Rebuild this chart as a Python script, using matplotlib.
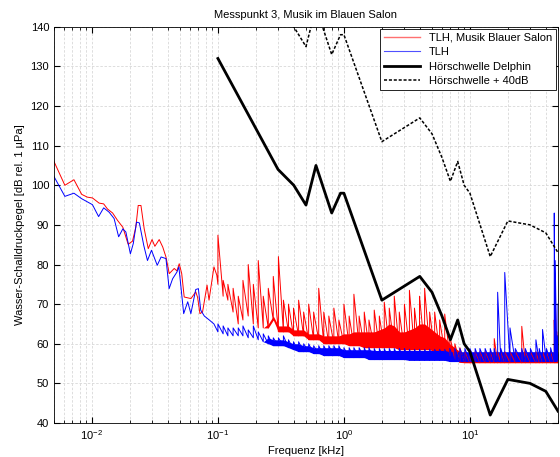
import numpy as np
import matplotlib
matplotlib.use("Agg")
import matplotlib.pyplot as plt
from matplotlib.lines import Line2D
from matplotlib.ticker import LogLocator, NullFormatter

plt.rcParams["font.family"] = ["Liberation Sans", "DejaVu Sans"]
plt.rcParams["mathtext.fontset"] = "custom"
plt.rcParams["mathtext.rm"] = "Liberation Sans"

RED, BLUE = "#ff0000", "#0000ff"

# --- low-frequency part of both spectra (kHz, dB) ---
red_f_low = [0.005, 0.0061, 0.0072, 0.0083, 0.0092, 0.0101, 0.0114, 0.0124, 0.0133,
             0.0146, 0.016, 0.0176, 0.0194, 0.021, 0.0223, 0.0233, 0.0245, 0.026,
             0.028, 0.030, 0.0316, 0.0342, 0.0365, 0.0387, 0.0411, 0.045, 0.0473,
             0.0493, 0.0516, 0.054, 0.0611, 0.0667, 0.069, 0.072, 0.0755, 0.082,
             0.085, 0.093, 0.098]
red_db_low = [106, 100, 101.4, 97.7, 97, 96.8, 95.5, 95.3, 94,
              93, 91.1, 89.4, 85.1, 85.9, 89.4, 94.9, 94.9, 89,
              84, 86.3, 84.6, 86.3, 84.4, 81.9, 77.7, 79, 78.4,
              80.2, 77.7, 71.8, 71.4, 73.1, 71.7, 67.6, 68, 74.8,
              71, 79.4, 77.3]

blue_f_low = [0.005, 0.0061, 0.0072, 0.0083, 0.0101, 0.0113, 0.0124, 0.0137, 0.015,
              0.0163, 0.0176, 0.0186, 0.0202, 0.0213, 0.0226, 0.0238, 0.0258, 0.0276,
              0.0297, 0.033, 0.0354, 0.0387, 0.041, 0.0437, 0.0473, 0.049, 0.0535,
              0.0576, 0.061, 0.0667, 0.07, 0.073, 0.078, 0.0854, 0.093]
blue_db_low = [102.2, 97.2, 98, 96.6, 95.1, 92.1, 94.3, 93.2, 91.6,
               87, 89, 88.2, 82.7, 85.3, 90.7, 90.5, 84.8, 81,
               83.6, 79.8, 81.9, 81.5, 73.9, 76.4, 78.1, 79.4, 67.6,
               70.6, 67.6, 73.7, 73.9, 68.5, 67, 66, 65]

# --- high-frequency part: floor, dense core top and peak level per bin ---
f_hf = [0.100, 0.110, 0.120, 0.132, 0.145, 0.158, 0.174, 0.191, 0.209, 0.229,
        0.251, 0.275, 0.302, 0.331, 0.363, 0.398, 0.437, 0.479, 0.525, 0.575,
        0.631, 0.692, 0.759, 0.832, 0.912, 1.00, 1.10, 1.20, 1.32, 1.45,
        1.58, 1.74, 1.91, 2.09, 2.29, 2.51, 2.75, 3.02, 3.31, 3.63,
        3.98, 4.37, 4.79, 5.25, 5.75, 6.31, 6.92, 7.59, 8.32, 9.12,
        10.0, 11.0, 12.0, 13.2, 14.5, 15.6, 16.6, 17.6, 18.9, 20.8,
        22.9, 25.8, 27.5, 30.2, 33.4, 35.5, 37.7, 40.5, 43.7, 46.7,
        47.5, 49.0, 50.0]
red_lo = [75, 72, 71, 68, 65, 66, 67, 65, 64, 64,
          64, 66, 63, 63, 63, 62, 62, 62, 61, 61,
          61, 60, 60, 60, 60, 60, 59.5, 59.5, 59.5, 59,
          59, 59, 59, 59, 59, 59, 58.5, 58.5, 58.5, 58.5,
          58.5, 58.5, 58.5, 58, 58, 58, 57, 56, 55.3, 55.2,
          55.2, 55.2, 55.2, 55.2, 55.2, 55.2, 55.2, 55.2, 55.2, 55.2,
          55.2, 55.2, 55.2, 55.2, 55.2, 55.2, 55.2, 55.2, 55.2, 55.2,
          55.2, 55.2, 55.2]
red_core = [75, 72, 71, 68, 65, 66, 67, 65, 64, 64,
            65, 67, 64.5, 64.5, 64.5, 63.5, 63.5, 63.5, 62.5, 62.5,
            62.5, 62, 62, 62, 62, 62.5, 62.5, 63, 63, 63,
            63, 63, 63.5, 64, 65, 64.5, 63, 63, 63.5, 64,
            65, 65, 64, 63, 62, 61.5, 60, 59, 58, 57.5,
            57.5, 57.5, 57.5, 57.5, 57.5, 57.5, 57.5, 57.5, 57.5, 57.5,
            57.5, 57.5, 57.5, 57.5, 57.5, 57.5, 57.5, 57.5, 57.5, 57.5,
            57.5, 57.5, 57.5]
red_hi = [87.4, 76, 75, 74, 72, 76, 80, 75, 81, 72,
          74, 77, 82, 71, 70, 69, 71, 68, 70, 68,
          74, 68, 67, 69, 66, 70, 67, 72.5, 67, 68,
          66, 68.5, 67, 70.5, 69, 72, 68, 70, 73.5, 69,
          72, 74, 68, 68, 66, 67.5, 62, 60, 59, 58,
          58, 58, 58, 58, 58, 61.3, 58, 58, 58, 58,
          58, 64.4, 58, 58, 58, 58, 58, 58, 58, 66,
          73, 63, 62]
blue_lo = [63, 62.5, 62, 62, 62, 62, 61.5, 61.5, 61, 60.5,
           60, 59.5, 59.5, 59.5, 59, 58.5, 58, 58, 58, 57.5,
           57.5, 57, 57, 57, 57, 56.5, 56.5, 56.5, 56.5, 56.5,
           56, 56, 56, 56, 56, 56, 56, 56, 55.8, 55.8,
           55.8, 55.8, 55.8, 55.8, 55.8, 55.8, 55.5, 55.5, 55.5, 55.5,
           55.5, 55.5, 55.5, 55.5, 55.5, 55.5, 55.5, 55.5, 55.5, 55.5,
           55.5, 55.5, 55.5, 55.5, 55.5, 55.5, 55.5, 55.5, 55.5, 55.5,
           55.5, 55.5, 56]
blue_core = [63, 62.5, 62, 62, 62, 62, 61.5, 61.5, 61, 60.5,
             61.5, 61, 61, 61, 60.5, 60, 60, 59.5, 59.5, 59,
             59, 59, 59, 59, 59, 58.5, 58.5, 58.5, 58.5, 58.5,
             58.5, 58.3, 58.3, 58.3, 58.3, 58.3, 58.3, 58.3, 58.3, 58.3,
             58.3, 58.3, 58.3, 58.3, 58.3, 58.3, 58, 58, 58, 58,
             58, 58, 58, 58, 58, 58, 58, 58, 58, 58,
             58, 58, 58, 58, 58, 58, 58, 58, 58, 58,
             58, 58, 58]
blue_hi = [65, 64.5, 64, 64, 64, 64.5, 63.5, 64.5, 63, 62.5,
           62, 61.5, 61.5, 62, 61, 60.5, 60.5, 60, 60, 59.5,
           59.5, 59.5, 59.5, 59.5, 59.5, 59, 59, 59, 59, 59,
           59, 58.8, 58.8, 58.8, 58.8, 58.8, 58.8, 58.8, 58.6, 58.6,
           58.6, 58.6, 58.6, 58.6, 58.6, 58.6, 58.8, 58.8, 58.8, 58.8,
           58.8, 58.8, 58.8, 58.8, 58.8, 58.8, 73, 58.8, 78, 64,
           58.8, 58.8, 58.8, 58.8, 61, 58.8, 63.6, 58.8, 59, 93,
           81, 62, 70]

# --- dolphin hearing threshold ---
thr_f = [0.1, 0.3, 0.4, 0.5, 0.6, 0.8, 0.94, 1.0, 2, 4, 5, 6, 7, 8, 9, 10,
         14.5, 20, 30, 40, 50]
thr_db = [132, 104, 100, 95, 105, 93, 98, 98, 71, 77, 73, 67, 61, 66, 60, 58,
          42, 51, 50, 48, 43]
thr_offset = 40

labels = ["TLH, Musik Blauer Salon", "TLH", "Hörschwelle Delphin", "Hörschwelle + 40dB"]


def spectrum(f_low, db_low, f, lo, hi):
    # low part as a plain line, dense part zigzags floor -> peak per bin
    x = np.concatenate([f_low, np.repeat(f, 2)])
    y = np.concatenate([db_low, np.column_stack([lo, hi]).ravel()])
    return x, y


fig = plt.figure(figsize=(5.6, 4.57), dpi=100)
ax = fig.add_axes([0.0964, 0.0744, 0.9, 0.867])

xr, yr = spectrum(red_f_low, red_db_low, f_hf, red_lo, red_hi)
xb, yb = spectrum(blue_f_low, blue_db_low, f_hf, blue_lo, blue_hi)
ax.fill_between(f_hf, red_lo, red_core, color=RED, lw=0)
ax.plot(xr, yr, color=RED, lw=0.7)
ax.fill_between(f_hf, blue_lo, blue_core, color=BLUE, lw=0)
ax.plot(xb, yb, color=BLUE, lw=0.7)
ax.plot(thr_f, thr_db, color="black", lw=2.0)
DASH = (0, (2, 1.2))
ax.plot(thr_f, np.array(thr_db) + thr_offset, color="black", lw=1.1, ls=DASH)

ax.set_xscale("log")
ax.set_xlim(0.005, 50)
ax.set_ylim(40, 140)
ax.set_yticks(np.arange(40, 141, 10))
ax.xaxis.set_minor_locator(LogLocator(base=10, subs=np.arange(2, 10), numticks=20))
ax.xaxis.set_minor_formatter(NullFormatter())
ax.grid(True, which="major", color="#d8d8d8", ls=(0, (3, 2)), lw=0.6)
ax.grid(True, which="minor", axis="x", color="#d8d8d8", ls=(0, (3, 2)), lw=0.6)
ax.set_axisbelow(True)
ax.tick_params(which="both", direction="in", top=True, right=True, labelsize=8)
ax.tick_params(which="major", length=4)
ax.tick_params(which="minor", length=2)
for s in ax.spines.values():
    s.set_linewidth(0.6)

ax.set_title("Messpunkt 3, Musik im Blauen Salon", fontsize=8, pad=6)
ax.set_xlabel("Frequenz [kHz]", fontsize=8, labelpad=3)
ax.set_ylabel("Wasser-Schalldruckpegel [dB rel. 1 µPa]", fontsize=8, labelpad=4)

handles = [Line2D([], [], color="#ff7070", lw=1.0),
           Line2D([], [], color="#5050ff", lw=0.8),
           Line2D([], [], color="black", lw=2.0),
           Line2D([], [], color="black", lw=1.1, ls=DASH)]
leg = ax.legend(handles, labels, loc="upper right", fontsize=8, fancybox=False,
                framealpha=1, edgecolor="black", borderaxespad=0.2,
                handlelength=3.2, borderpad=0.35, labelspacing=0.4)
leg.get_frame().set_linewidth(0.6)

fig.savefig("out.png", dpi=100)
